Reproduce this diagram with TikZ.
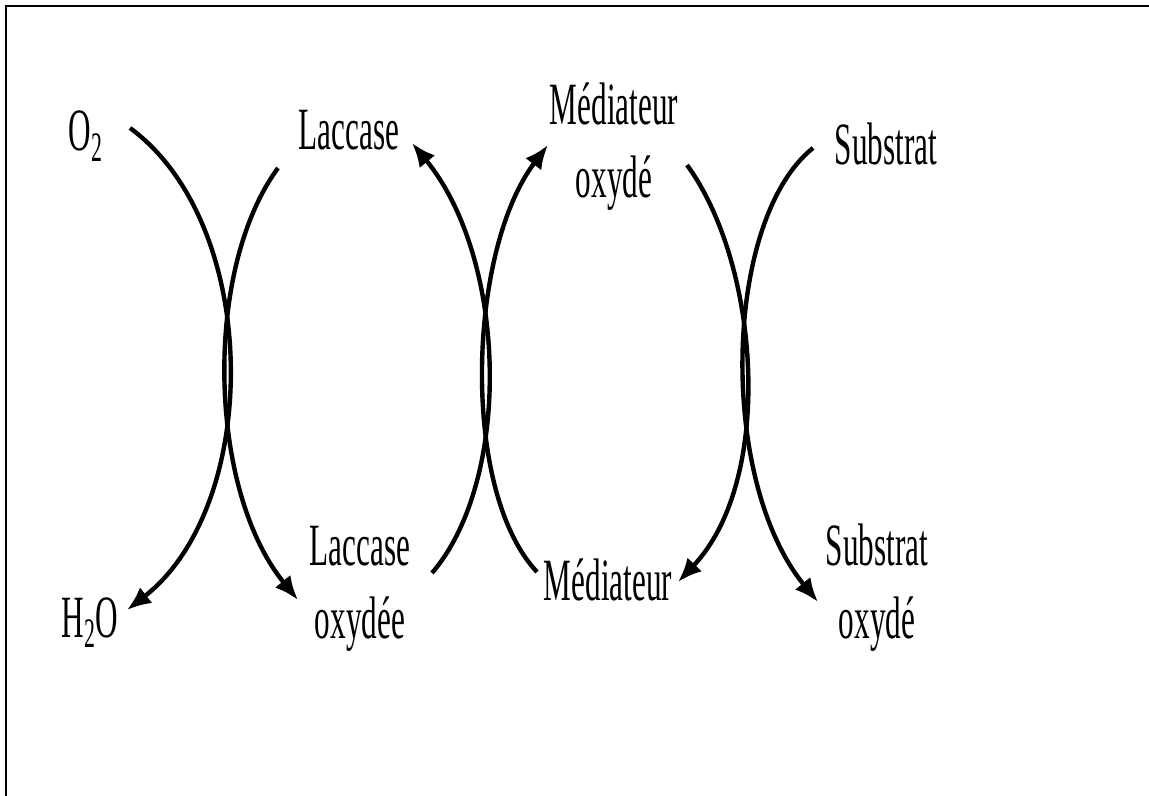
\documentclass[tikz,border=0pt]{standalone}
\usepackage{fontspec}
\newfontfamily\narrowserif[FakeStretch=0.52]{Liberation Serif}
\usetikzlibrary{arrows.meta}
\tikzset{
  species/.style={font=\narrowserif\fontsize{30}{36.5}\selectfont,inner sep=0pt,anchor=base,align=center},
  react/.style={line width=2.2pt,-{Latex[length=12pt,width=10pt]}}
}

\begin{document}
\begin{tikzpicture}[x=0.5pt,y=-0.5pt]
\useasboundingbox (0,0) rectangle (1149,796);
\draw[line width=1pt] (6,796) -- (6,6) -- (1149,6);
% species
\node[species] (o2) at (86,151) {O\textsubscript{2}};
\node[species] (h2o) at (90,637) {H\textsubscript{2}O};
\node[species] (lac) at (349,150) {Laccase};
\node[species] (laox) at (360,638) {Laccase\\oxydée};
\node[species] (medox) at (614,198) {Médiateur\\oxydé};
\node[species] (med) at (608,600) {Médiateur};
\node[species] (sub) at (886,165) {Substrat};
\node[species] (subox) at (877,638) {Substrat\\oxydé};
% left pair
\draw[react] ([shift={(44,-23)}]o2.base) .. controls +(132,97) and +(135,-105) .. ([shift={(37,-27)}]h2o.base);
\draw[react] ([shift={(-71,18)}]lac.base) .. controls +(-75,102) and +(-90,-110) .. ([shift={(-62,-38)}]laox.base);
% middle pair
\draw[react] ([shift={(72,-65)}]laox.base) .. controls +(80,-93) and +(96,117) .. ([shift={(63,-7)}]lac.base);
\draw[react] ([shift={(-71,-28)}]med.base) .. controls +(-77,-82) and +(-80,105) .. ([shift={(-66,-53)}]medox.base);
% right pair
\draw[react] ([shift={(73,-33)}]medox.base) .. controls +(73,100) and +(97,-102) .. ([shift={(70,-18)}]med.base);
\draw[react] ([shift={(-73,-17)}]sub.base) .. controls +(-90,72) and +(-100,-122) .. ([shift={(-59,-36)}]subox.base);
\end{tikzpicture}
\end{document}
